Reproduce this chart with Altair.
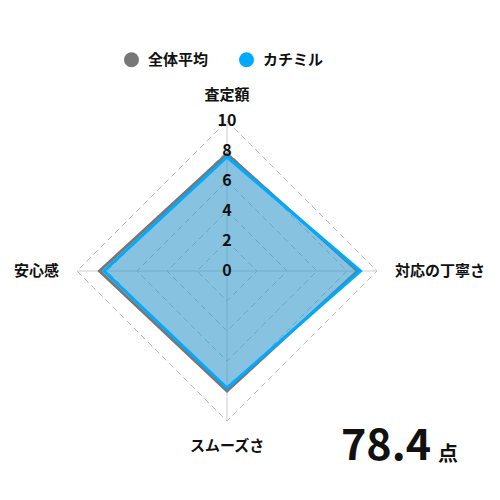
import altair as alt
import pandas as pd

# 評価軸（上から時計回り）
axes = ["査定額", "対応の丁寧さ", "スムーズさ", "安心感"]
series_names = ["全体平均", "カチミル"]
avg_scores = [7.8, 8.7, 8.0, 8.5]
kachimiru_scores = [7.6, 8.9, 7.8, 8.2]
grid_levels = [2, 4, 6, 8, 10]
tick_values = [0, 2, 4, 6, 8, 10]
total_score = 78.4
score_unit = "点"

GRAY = "#777777"
BLUE = "#00aaff"
FONT = "Noto Sans CJK JP"

# 極座標 -> 直交座標
polar = dict(
    ang="datum.idx * 2 * PI / 4",
    px="datum.r * sin(datum.ang)",
    py="datum.r * cos(datum.ang)",
)

rows = []
for name, vals in zip(series_names, [avg_scores, kachimiru_scores]):
    for i, v in enumerate(vals):
        rows.append({"series": name, "axis": axes[i], "idx": i, "r": v})
series_df = pd.DataFrame(rows)

grid_df = pd.DataFrame(
    [{"level": lv, "idx": i, "r": lv} for lv in grid_levels for i in range(len(axes))]
)
spoke_df = pd.DataFrame({"axis": axes, "idx": range(len(axes)), "r": 10, "zero": 0})
label_df = pd.DataFrame({"axis": axes, "idx": range(len(axes)), "r": 11.2})
tick_df = pd.DataFrame({"idx": 0, "r": tick_values, "label": [str(t) for t in tick_values]})
score_df = pd.DataFrame({"score": [total_score], "unit": [score_unit]})

xs = alt.Scale(domain=[-10, 10], nice=False)
ys = alt.Scale(domain=[-10, 10], nice=False)
X = lambda f: alt.X(f"{f}:Q", scale=xs, axis=None)
Y = lambda f: alt.Y(f"{f}:Q", scale=ys, axis=None)

grid = alt.Chart(grid_df).transform_calculate(**polar).mark_line(
    interpolate="linear-closed", stroke="#bbbbbb", strokeWidth=1, strokeDash=[6, 4]
).encode(x=X("px"), y=Y("py"), detail="level:N", order="idx:Q")

spokes = alt.Chart(spoke_df).transform_calculate(**polar).mark_rule(
    stroke="#cccccc", strokeWidth=1
).encode(x=X("zero"), y=Y("zero"), x2="px:Q", y2="py:Q")

polys = []
for name, c, op in [(series_names[0], GRAY, 0.35), (series_names[1], BLUE, 0.35)]:
    polys.append(
        alt.Chart(series_df).transform_filter(alt.datum.series == name)
        .transform_calculate(**polar)
        .mark_line(interpolate="linear-closed", stroke=c, strokeWidth=3,
                   fill=c, fillOpacity=op)
        .encode(x=X("px"), y=Y("py"), order="idx:Q")
    )

# 凡例用（頂点のポイント）
legend_pts = alt.Chart(series_df).transform_calculate(**polar).mark_point(
    filled=True, size=0, opacity=1
).encode(
    x=X("px"), y=Y("py"),
    color=alt.Color("series:N", scale=alt.Scale(domain=series_names, range=[GRAY, BLUE]),
                    legend=alt.Legend(orient="none", direction="horizontal", title=None,
                                      legendX=47, legendY=-69, padding=0,
                                      symbolType="circle", symbolSize=225,
                                      symbolStrokeWidth=0, labelOffset=9,
                                      columnPadding=30, labelFont=FONT,
                                      labelFontSize=15, labelFontWeight="bold",
                                      labelColor="#111111")),
)

label_layers = []
for i, (al, bl) in enumerate([("center", "bottom"), ("left", "middle"),
                              ("center", "top"), ("right", "middle")]):
    label_layers.append(
        alt.Chart(label_df).transform_filter(alt.datum.idx == i)
        .transform_calculate(**polar)
        .mark_text(align=al, baseline=bl, font=FONT, fontSize=15,
                   fontWeight="bold", color="#111111")
        .encode(x=X("px"), y=Y("py"), text="axis:N")
    )

ticks = alt.Chart(tick_df).transform_calculate(**polar).mark_text(
    align="center", baseline="middle", font=FONT, fontSize=16,
    fontWeight="bold", color="#111111"
).encode(x=X("px"), y=Y("py"), text="label:N")

score_text = alt.Chart(score_df).mark_text(
    align="left", baseline="alphabetic", font=FONT, fontSize=43,
    fontWeight="bold", color="#111111"
).encode(x=alt.value(264), y=alt.value(339), text=alt.Text("score:Q", format=".1f"))

unit_text = alt.Chart(score_df).mark_text(
    align="left", baseline="alphabetic", font=FONT, fontSize=20,
    fontWeight="bold", color="#111111"
).encode(x=alt.value(361), y=alt.value(340), text="unit:N")

chart = alt.layer(
    grid, spokes, *polys, legend_pts, *label_layers, ticks, score_text, unit_text
).properties(
    width=300, height=300,
    autosize=alt.AutoSizeParams(type="none"),
    padding={"left": 69, "top": 113, "right": 112, "bottom": 55},
).configure_view(stroke=None)

chart.save("out.html", embed_options={"renderer": "svg", "actions": False})
